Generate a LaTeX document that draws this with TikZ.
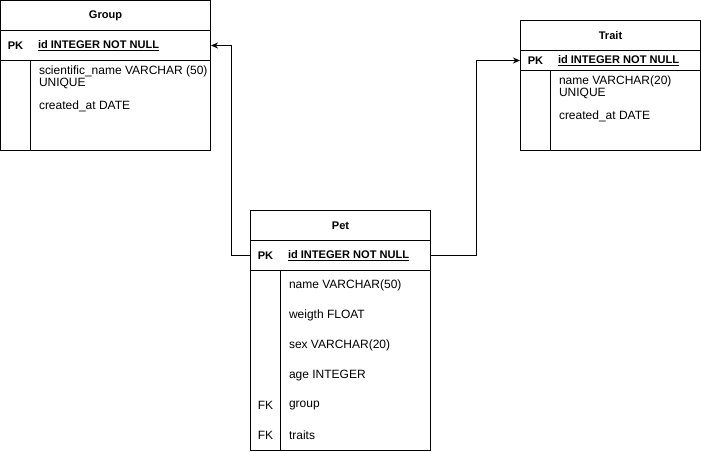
\documentclass[tikz,border=0pt]{standalone}
\usepackage{fontspec}
\setmainfont{Liberation Sans}
\usetikzlibrary{arrows.meta}
\newcommand{\keyfont}{\fontsize{8.3}{10}\selectfont\bfseries}

\begin{document}
\begin{tikzpicture}[x=0.75pt,y=-0.75pt,line width=0.75pt,font=\fontsize{9}{10}\selectfont]
\tikzstyle{every node}=[inner sep=0pt];
\tikzstyle{keyrow}=[draw,minimum height=22.5pt,minimum width=135pt];
\tikzstyle{field}=[anchor=west];
\tikzstyle{title}=[font=\keyfont];
\tikzstyle{conn}=[-{Stealth[length=5.25pt,width=4.5pt]}];
\useasboundingbox (-0.5,-0.5) rectangle (700.5,450.5);

% Group
\draw (0,0) rectangle (210,150);
\draw (30,60) -- (30,150);
\node[keyrow,minimum width=157.5pt] (grouppk) at (105,45) {};
\node[title] (grouptitle) at (105,15) {Group};
\node[title] (grouppklabel) at (15,45) {PK};
\node[field,title] (groupid) at (37,45) {\underline{id INTEGER NOT NULL}};
\node[field] (groupname) at (38,71) {scientific\_name VARCHAR (50)};
\node[field] (groupunique) at (38,83) {UNIQUE};
\node[field] (groupdate) at (38,106) {created\_at DATE};

% Trait
\draw (520,20) rectangle (700,150);
\draw (550,70) -- (550,150);
\node[keyrow,minimum height=15pt] (traitpk) at (610,60) {};
\node[title] (traittitle) at (610,35) {Trait};
\node[title] (traitpklabel) at (535,60) {PK};
\node[field,title] (traitid) at (557,60) {\underline{id INTEGER NOT NULL}};
\node[field] (traitname) at (558,81) {name VARCHAR(20)};
\node[field] (traitunique) at (558,93) {UNIQUE};
\node[field] (traitdate) at (558,116) {created\_at DATE};

% Pet
\draw (250,210) rectangle (430,450);
\draw (280,270) -- (280,450);
\node[keyrow] (petpk) at (340,255) {};
\node[title] (pettitle) at (340,225) {Pet};
\node[title] (petpklabel) at (265,255) {PK};
\node[field,title] (petid) at (287,255) {\underline{id INTEGER NOT NULL}};
\foreach \y/\t in {285/name VARCHAR(50),315/weigth FLOAT,345/sex VARCHAR(20),375/age INTEGER,405/group,435/traits}
{
\node[field] (pet\y) at (288,\y) {\t};
}
\foreach \y in {405,435}
{
\node (fk\y) at (265,\y) {FK};
}

% links
\draw[conn] (petpk.west) -- ++(-19,0) |- (grouppk.east);
\draw[conn] (petpk.east) -- ++(45,0) |- (traitpk.west);
\end{tikzpicture}
\end{document}
